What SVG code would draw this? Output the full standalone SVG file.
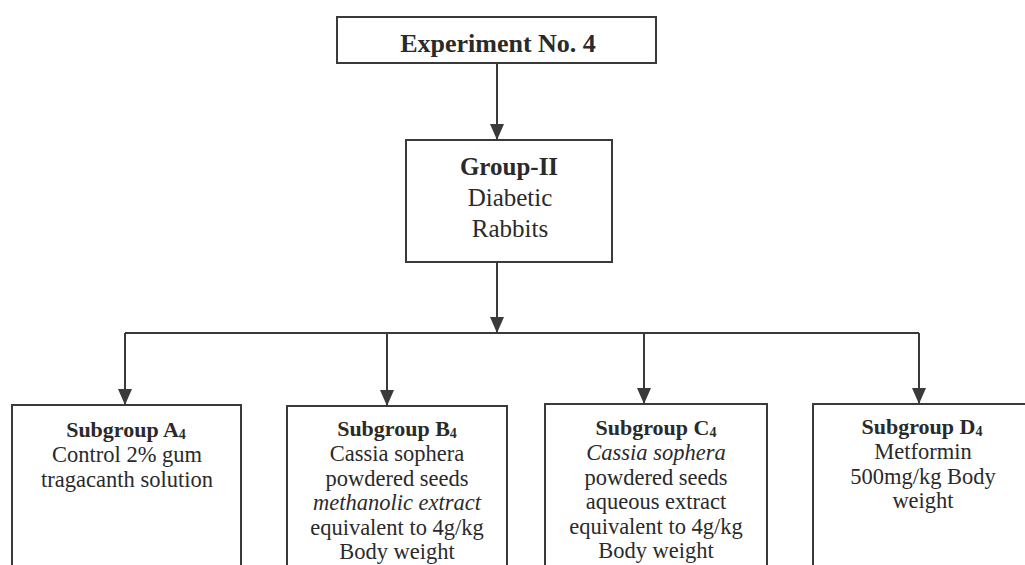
<svg xmlns="http://www.w3.org/2000/svg" width="1025" height="565" viewBox="0 0 1025 565">
<style>
  .box { fill: #ffffff; stroke: #3a3a3a; stroke-width: 2; }
  .conn { stroke: #3a3a3a; stroke-width: 2; fill: none; }
  text { font-family: "Liberation Serif", "Times New Roman", serif; fill: #2a2a2a; text-anchor: middle; }
  .t1 { font-size: 26px; font-weight: bold; }
  .g { font-size: 25px; }
  .gb { font-size: 25px; font-weight: bold; }
  .s { font-size: 22.5px; }
  .sb { font-size: 22px; font-weight: bold; }
  .it { font-style: italic; }
  .sub { font-size: 14px; }
</style>
<defs>
  <marker id="arr" markerUnits="userSpaceOnUse" markerWidth="14" markerHeight="14" refX="16" refY="7" orient="auto">
    <path d="M0,0 L16,7 L0,14 z" fill="#3a3a3a"/>
  </marker>
</defs>
<rect width="1025" height="565" fill="#ffffff"/>

<g id="connectors">
  <line class="conn" x1="497" y1="63" x2="497" y2="140" marker-end="url(#arr)"/>
  <line class="conn" x1="497" y1="262" x2="497" y2="333" marker-end="url(#arr)"/>
  <line class="conn" x1="125" y1="333" x2="919" y2="333"/>
  <line class="conn" x1="125" y1="333" x2="125" y2="405" marker-end="url(#arr)"/>
  <line class="conn" x1="387" y1="333" x2="387" y2="406" marker-end="url(#arr)"/>
  <line class="conn" x1="644" y1="333" x2="644" y2="404" marker-end="url(#arr)"/>
  <line class="conn" x1="919" y1="333" x2="919" y2="404" marker-end="url(#arr)"/>
</g>

<g id="experiment">
  <rect class="box" x="337" y="17" width="319" height="46"/>
  <text class="t1" x="498" y="52">Experiment No. 4</text>
</g>

<g id="group2">
  <rect class="box" x="406" y="140" width="206" height="122"/>
  <text class="gb" x="509" y="175">Group-II</text>
  <text class="g" x="510" y="206">Diabetic</text>
  <text class="g" x="510" y="237">Rabbits</text>
</g>

<g id="subA">
  <rect class="box" x="12" y="405" width="229" height="175"/>
  <text class="sb" x="126" y="437">Subgroup A<tspan class="sub" dy="2">4</tspan></text>
  <text class="s" x="127" y="462">Control 2% gum</text>
  <text class="s" x="127" y="487">tragacanth solution</text>
</g>

<g id="subB">
  <rect class="box" x="287" y="406" width="220" height="175"/>
  <text class="sb" x="397" y="436">Subgroup B<tspan class="sub" dy="2">4</tspan></text>
  <text class="s" x="397" y="461">Cassia sophera</text>
  <text class="s" x="397" y="485.5">powdered seeds</text>
  <text class="s it" x="397" y="510">methanolic extract</text>
  <text class="s" x="397" y="534.5">equivalent to 4g/kg</text>
  <text class="s" x="397" y="559">Body weight</text>
</g>

<g id="subC">
  <rect class="box" x="545" y="404" width="222" height="175"/>
  <text class="sb" x="656" y="435">Subgroup C<tspan class="sub" dy="2">4</tspan></text>
  <text class="s it" x="656" y="460">Cassia sophera</text>
  <text class="s" x="656" y="484.5">powdered seeds</text>
  <text class="s" x="656" y="509">aqueous extract</text>
  <text class="s" x="656" y="533.5">equivalent to 4g/kg</text>
  <text class="s" x="656" y="558">Body weight</text>
</g>

<g id="subD">
  <rect class="box" x="813" y="404" width="220" height="175"/>
  <text class="sb" x="922" y="434">Subgroup D<tspan class="sub" dy="2">4</tspan></text>
  <text class="s" x="923" y="459">Metformin</text>
  <text class="s" x="923" y="484">500mg/kg Body</text>
  <text class="s" x="923" y="508">weight</text>
</g>
</svg>
